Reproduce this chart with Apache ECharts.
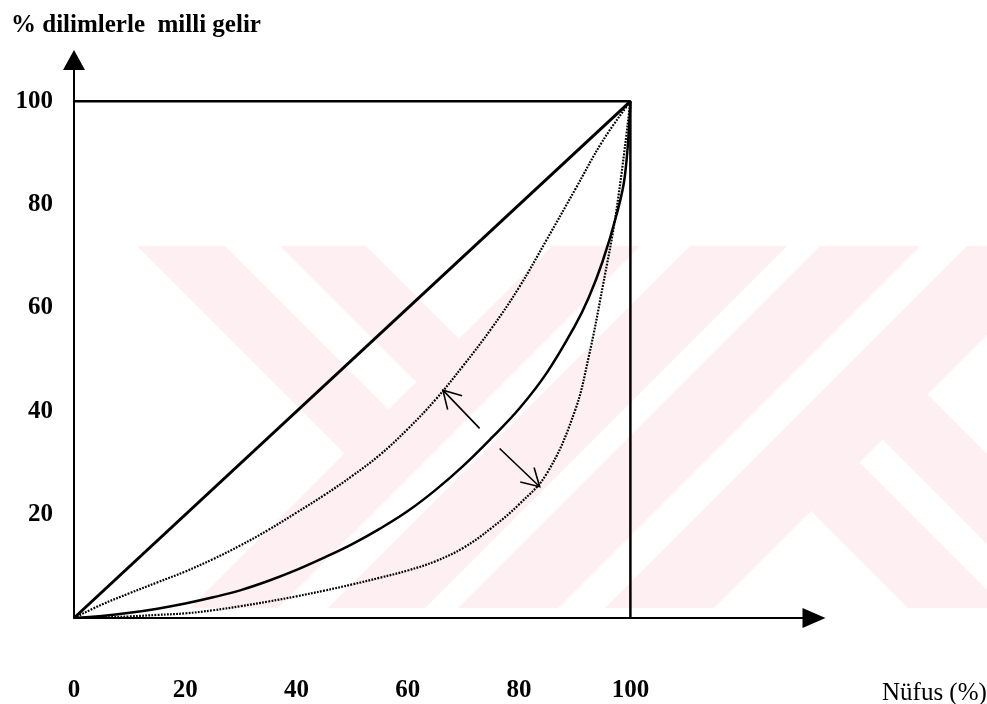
<!DOCTYPE html>
<html>
<head>
<meta charset="utf-8">
<script src="https://cdn.jsdelivr.net/npm/echarts@6/dist/echarts.min.js"></script>
<style>
html,body{margin:0;padding:0;background:#ffffff;}
#chart{width:987px;height:704px;}
</style>
</head>
<body>
<div id="chart"></div>
<script>
// ---------------- data ----------------
const yAxisTitle = '% dilimlerle  milli gelir';
const xAxisTitle = 'Nüfus (%)';
const xTickValues = [0, 20, 40, 60, 80, 100];
const yTickValues = [20, 40, 60, 80, 100];

// perfect equality square (top and right sides)
const boxX = [0, 100, 100];
const boxY = [100, 100, 0];

// perfect equality diagonal
const equalityX = [0, 100];
const equalityY = [0, 100];

// Lorenz curve (solid)
const lorenzX = [0, 5, 10, 15, 20, 25, 30, 35, 40, 45, 50, 55, 60, 65, 70, 75, 80, 85, 90, 92.5, 95, 97.5, 99, 100];
const lorenzY = [0, 0.4, 1, 1.8, 2.8, 4, 5.4, 7.2, 9.3, 11.7, 14.3, 17.3, 20.7, 24.8, 29.5, 34.8, 40.5, 47.5, 56.5, 62, 69, 78, 85.5, 100];

// more equal distribution (upper dotted)
const upperX = [0, 5, 10, 15, 20, 25, 30, 35, 40, 45, 50, 55, 60, 65, 70, 75, 80, 85, 90, 95, 100];
const upperY = [0, 2.6, 4.8, 6.9, 9, 11.4, 14.1, 17.1, 20.4, 23.8, 27.5, 31.6, 36.6, 42.3, 48.9, 56, 64, 73.3, 82.8, 92.3, 100];

// less equal distribution (lower dotted)
const lowerX = [0, 5, 10, 15, 20, 25, 30, 35, 40, 45, 50, 55, 60, 65, 70, 75, 80, 85, 90, 92.5, 95, 97.5, 100];
const lowerY = [0, 0.1, 0.3, 0.6, 0.9, 1.5, 2.3, 3.2, 4.2, 5.3, 6.5, 7.8, 9.2, 11, 13.6, 17.4, 22, 28, 40, 50.5, 64, 79, 100];

// annotation arrows (tail -> tip), data units
const arrowTailX = [72.9, 76.5];
const arrowTailY = [36.7, 32.8];
const arrowTipX = [66.3, 83.7];
const arrowTipY = [44.1, 25.4];

// ---------------- background watermark (decoration, pixels) ----------------
const WM_TOP = 246, WM_BOTTOM = 608, WM_COLOR = '#fdeff2';
const wmBackLeft = [[-109, -21], [34, 120]];   // x - y ranges
const wmBackLeftEnd = 800;                     // end at x + y
const wmSlash = [[798, 886], [936, 1033], [1066, 1166], [1213, 1322]]; // x + y ranges
const wmBackRight = [[300, 397], [443, 533]];  // x - y ranges
const wmBackRightStart = 1322;                 // start at x + y

function wmElements() {
  const T = WM_TOP, B = WM_BOTTOM, els = [];
  const poly = pts => ({ type: 'polygon', z: -1, silent: true, shape: { points: pts }, style: { fill: WM_COLOR } });
  wmBackLeft.forEach(([a1, a2]) => {
    const s = wmBackLeftEnd;
    els.push(poly([[a1 + T, T], [a2 + T, T], [(s + a2) / 2, (s - a2) / 2], [(s + a1) / 2, (s - a1) / 2]]));
  });
  wmSlash.forEach(([s1, s2]) => {
    els.push(poly([[s1 - T, T], [s2 - T, T], [s2 - B, B], [s1 - B, B]]));
  });
  wmBackRight.forEach(([a1, a2]) => {
    const s = wmBackRightStart;
    els.push(poly([[(s + a1) / 2, (s - a1) / 2], [(s + a2) / 2, (s - a2) / 2], [a2 + B, B], [a1 + B, B]]));
  });
  return els;
}

// ---------------- chart ----------------
const SERIF = "'Liberation Serif', 'Times New Roman', serif";
const pairs = (xs, ys) => xs.map((x, i) => [x, ys[i]]);

const chart = echarts.init(document.getElementById('chart'), null, { renderer: 'canvas' });

const option = {
  animation: false,
  backgroundColor: '#ffffff',
  title: [
    { text: yAxisTitle, left: 6, top: 8,
      textStyle: { fontFamily: SERIF, fontSize: 25, fontWeight: 'bold', color: '#000' } },
    { text: xAxisTitle, left: 877, top: 676,
      textStyle: { fontFamily: SERIF, fontSize: 25, fontWeight: 'normal', color: '#000' } }
  ],
  grid: { left: 74, right: 173, top: 60, bottom: 86 },
  xAxis: {
    type: 'value', min: 0, max: 133, interval: 20,
    axisLine: { show: true, onZero: false, symbol: ['none', 'triangle'], symbolSize: [20, 23],
      lineStyle: { color: '#000', width: 2 } },
    axisTick: { show: false },
    splitLine: { show: false },
    axisLabel: { margin: 60, color: '#000', fontFamily: SERIF, fontSize: 25, fontWeight: 'bold',
      showMaxLabel: false,
      formatter: v => xTickValues.includes(v) ? String(v) : '' }
  },
  yAxis: {
    type: 'value', min: 0, max: 108, interval: 20,
    axisLine: { show: true, onZero: false, symbol: ['none', 'triangle'], symbolSize: [22, 20],
      lineStyle: { color: '#000', width: 2 } },
    axisTick: { show: false },
    splitLine: { show: false },
    axisLabel: { margin: 21, color: '#000', fontFamily: SERIF, fontSize: 25, fontWeight: 'bold',
      showMaxLabel: false,
      formatter: v => yTickValues.includes(v) ? String(v) : '' }
  },
  graphic: { elements: wmElements() },
  series: [
    { type: 'line', data: pairs(boxX, boxY), symbol: 'none', silent: true,
      lineStyle: { color: '#000', width: 2.5 } },
    { type: 'line', data: pairs(equalityX, equalityY), symbol: 'none', silent: true,
      lineStyle: { color: '#000', width: 3 } },
    { type: 'line', data: pairs(lorenzX, lorenzY), symbol: 'none', silent: true,
      smooth: 0.4,
      lineStyle: { color: '#000', width: 2.5 } },
    { type: 'line', data: pairs(upperX, upperY), symbol: 'none', silent: true,
      smooth: 0.4,
      lineStyle: { color: '#000', width: 2.2, type: [1.8, 1.3] } },
    { type: 'line', data: pairs(lowerX, lowerY), symbol: 'none', silent: true,
      smooth: 0.4,
      lineStyle: { color: '#000', width: 2.2, type: [1.8, 1.3] } },
    { type: 'custom', silent: true, z: 3,
      data: arrowTailX.map((x, i) => [x, arrowTailY[i], arrowTipX[i], arrowTipY[i]]),
      encode: { x: [0, 2], y: [1, 3] },
      renderItem: (params, api) => {
        const p1 = api.coord([api.value(0), api.value(1)]);
        const p2 = api.coord([api.value(2), api.value(3)]);
        const ang = Math.atan2(p1[1] - p2[1], p1[0] - p2[0]);
        const L = 20, a = Math.PI / 6;
        const h1 = [p2[0] + L * Math.cos(ang + a), p2[1] + L * Math.sin(ang + a)];
        const h2 = [p2[0] + L * Math.cos(ang - a), p2[1] + L * Math.sin(ang - a)];
        return { type: 'group', children: [
          { type: 'line', shape: { x1: p1[0], y1: p1[1], x2: p2[0], y2: p2[1] },
            style: { stroke: '#000', lineWidth: 1.6 } },
          { type: 'polyline', shape: { points: [h1, p2, h2] },
            style: { stroke: '#000', lineWidth: 1.6, fill: null } }
        ]};
      }
    }
  ]
};
chart.setOption(option);
</script>
</body>
</html>
